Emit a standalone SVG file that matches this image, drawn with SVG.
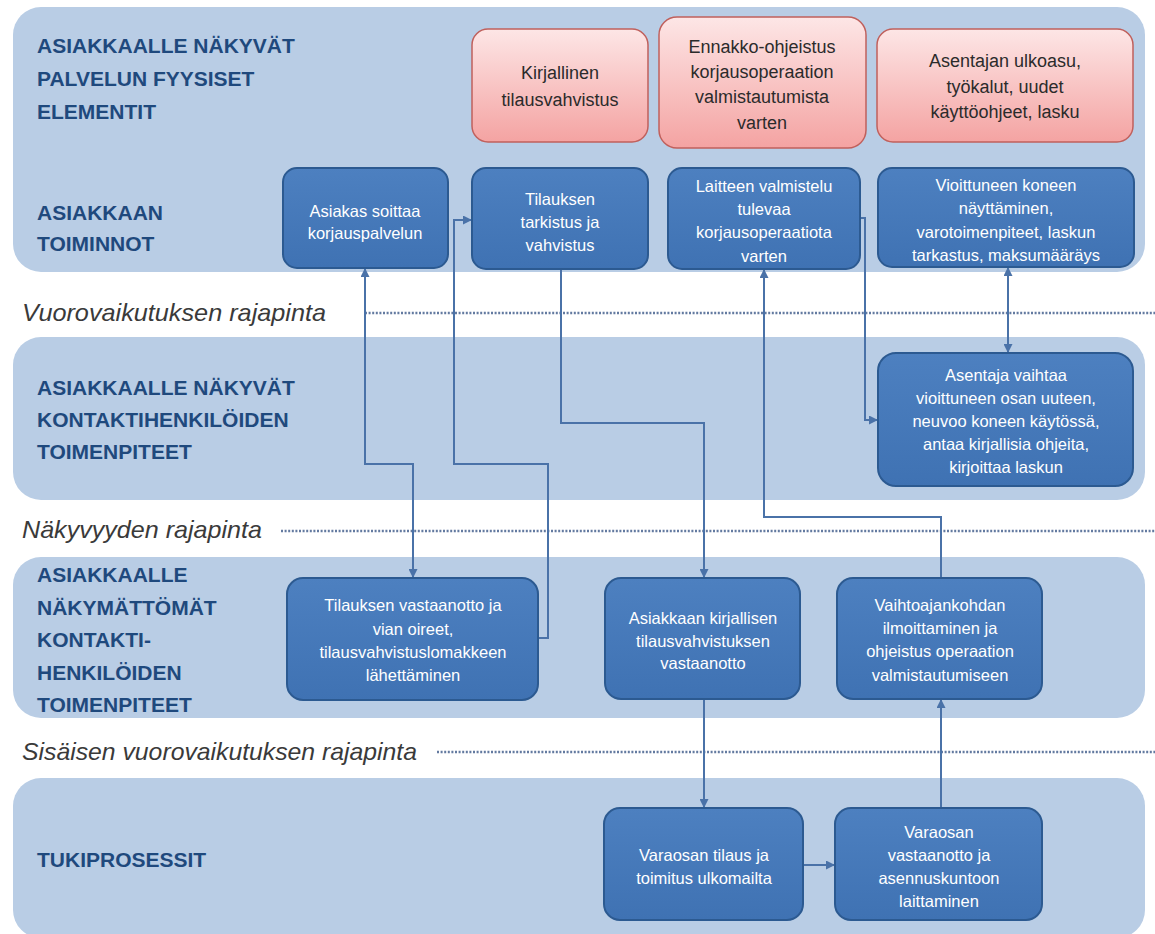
<svg xmlns="http://www.w3.org/2000/svg" width="1155" height="934" viewBox="0 0 1155 934">
<defs>
<linearGradient id="pink" x1="0" y1="0" x2="0" y2="1">
<stop offset="0" stop-color="#fde6e6"/>
<stop offset="1" stop-color="#f4a3a2"/>
</linearGradient>
<linearGradient id="blue" x1="0" y1="0" x2="0" y2="1">
<stop offset="0" stop-color="#4d80c0"/>
<stop offset="1" stop-color="#3f72b3"/>
</linearGradient>
<marker id="arr" viewBox="0 0 10 10" refX="10" refY="5" markerWidth="9" markerHeight="9" markerUnits="userSpaceOnUse" orient="auto-start-reverse">
<path d="M0,0 L10,5 L0,10 z" fill="#4a72a8"/>
</marker>
</defs>
<style>
.band{fill:#b9cde5;}
.title{font-family:"Liberation Sans",Arial,sans-serif;font-weight:bold;font-size:21px;fill:#1f497d;}
.sep{font-family:"Liberation Sans",Arial,sans-serif;font-style:italic;font-size:24px;fill:#3a3a3a;}
.dots{stroke:#637aa0;stroke-width:2.5;stroke-dasharray:2 1.6;fill:none;}
.pbox{fill:url(#pink);stroke:#c0605c;stroke-width:1.5;}
.bbox{fill:url(#blue);stroke:#2c5a91;stroke-width:2;}
.pt{font-family:"Liberation Sans",Arial,sans-serif;font-size:18px;fill:#2b2b2b;text-anchor:middle;}
.bt{font-family:"Liberation Sans",Arial,sans-serif;font-size:16.5px;fill:#fff;text-anchor:middle;}
.conn{fill:none;stroke:#4a72a8;stroke-width:2;}
</style>
<rect width="1155" height="934" fill="#fff"/>

<g id="lanes">
<rect class="band" x="13" y="7" width="1132" height="265" rx="28"/>
<rect class="band" x="13" y="337" width="1132" height="163" rx="28"/>
<rect class="band" x="13" y="557" width="1132" height="161" rx="28"/>
<rect class="band" x="13" y="778" width="1132" height="160" rx="28"/>
<text class="title" x="37"><tspan x="37" y="53">ASIAKKAALLE NÄKYVÄT</tspan><tspan x="37" y="86">PALVELUN FYYSISET</tspan><tspan x="37" y="119">ELEMENTIT</tspan></text>
<text class="title" x="37"><tspan x="37" y="220">ASIAKKAAN</tspan><tspan x="37" y="251">TOIMINNOT</tspan></text>
<text class="title" x="37"><tspan x="37" y="395">ASIAKKAALLE NÄKYVÄT</tspan><tspan x="37" y="427">KONTAKTIHENKILÖIDEN</tspan><tspan x="37" y="459">TOIMENPITEET</tspan></text>
<text class="title" x="37"><tspan x="37" y="582">ASIAKKAALLE</tspan><tspan x="37" y="615">NÄKYMÄTTÖMÄT</tspan><tspan x="37" y="647">KONTAKTI-</tspan><tspan x="37" y="680">HENKILÖIDEN</tspan><tspan x="37" y="712">TOIMENPITEET</tspan></text>
<text class="title" x="37" y="867">TUKIPROSESSIT</text>
</g>

<g id="separators">
<text class="sep" x="22" y="321" textLength="304" lengthAdjust="spacingAndGlyphs">Vuorovaikutuksen rajapinta</text>
<line class="dots" x1="365" y1="313" x2="1155" y2="313"/>
<text class="sep" x="22" y="538" textLength="240" lengthAdjust="spacingAndGlyphs">Näkyvyyden rajapinta</text>
<line class="dots" x1="281" y1="531" x2="1155" y2="531"/>
<text class="sep" x="22" y="760" textLength="395" lengthAdjust="spacingAndGlyphs">Sisäisen vuorovaikutuksen rajapinta</text>
<line class="dots" x1="437" y1="752" x2="1155" y2="752"/>
</g>

<g id="connectors">
<path class="conn" d="M365,268 V464 H413 V578" marker-start="url(#arr)" marker-end="url(#arr)"/>
<path class="conn" d="M538,638 H548 V464 H454 V220 H472" marker-end="url(#arr)"/>
<path class="conn" d="M561,269 V423 H704 V578" marker-end="url(#arr)"/>
<path class="conn" d="M860,218 H865 V420 H878" marker-end="url(#arr)"/>
<path class="conn" d="M941,578 V517 H764 V269" marker-end="url(#arr)"/>
<path class="conn" d="M1008,267 V353" marker-start="url(#arr)" marker-end="url(#arr)"/>
<path class="conn" d="M704,699 V808" marker-end="url(#arr)"/>
<path class="conn" d="M803,865 H835" marker-end="url(#arr)"/>
<path class="conn" d="M941,808 V699" marker-end="url(#arr)"/>
</g>

<g id="p1"><rect class="pbox" x="472" y="29" width="176" height="113" rx="16"/>
<text class="pt"><tspan x="560" y="79">Kirjallinen</tspan><tspan x="560" y="106">tilausvahvistus</tspan></text></g>
<g id="p2"><rect class="pbox" x="659" y="17" width="207" height="131" rx="18"/>
<text class="pt"><tspan x="762" y="53">Ennakko-ohjeistus</tspan><tspan x="762" y="78">korjausoperaation</tspan><tspan x="762" y="103">valmistautumista</tspan><tspan x="762" y="129">varten</tspan></text></g>
<g id="p3"><rect class="pbox" x="877" y="29" width="256" height="113" rx="16"/>
<text class="pt"><tspan x="1005" y="67">Asentajan ulkoasu,</tspan><tspan x="1005" y="93">työkalut, uudet</tspan><tspan x="1005" y="118">käyttöohjeet, lasku</tspan></text></g>

<g id="b1"><rect class="bbox" x="283" y="168" width="165" height="100" rx="14"/>
<text class="bt"><tspan x="365" y="217">Asiakas soittaa</tspan><tspan x="365" y="239">korjauspalvelun</tspan></text></g>
<g id="b2"><rect class="bbox" x="472" y="168" width="176" height="101" rx="14"/>
<text class="bt"><tspan x="560" y="205">Tilauksen</tspan><tspan x="560" y="228">tarkistus ja</tspan><tspan x="560" y="251">vahvistus</tspan></text></g>
<g id="b3"><rect class="bbox" x="668" y="168" width="192" height="101" rx="14"/>
<text class="bt"><tspan x="764" y="192">Laitteen valmistelu</tspan><tspan x="764" y="215">tulevaa</tspan><tspan x="764" y="238">korjausoperaatiota</tspan><tspan x="764" y="262">varten</tspan></text></g>
<g id="b4"><rect class="bbox" x="878" y="168" width="256" height="99" rx="14"/>
<text class="bt"><tspan x="1006" y="191">Vioittuneen koneen</tspan><tspan x="1006" y="214">näyttäminen,</tspan><tspan x="1006" y="238">varotoimenpiteet, laskun</tspan><tspan x="1006" y="261">tarkastus, maksumääräys</tspan></text></g>

<g id="b5"><rect class="bbox" x="878" y="353" width="255" height="133" rx="18"/>
<text class="bt"><tspan x="1006" y="381">Asentaja vaihtaa</tspan><tspan x="1006" y="404">vioittuneen osan uuteen,</tspan><tspan x="1006" y="427">neuvoo koneen käytössä,</tspan><tspan x="1006" y="450">antaa kirjallisia ohjeita,</tspan><tspan x="1006" y="473">kirjoittaa laskun</tspan></text></g>

<g id="b6"><rect class="bbox" x="287" y="578" width="251" height="122" rx="16"/>
<text class="bt"><tspan x="413" y="611">Tilauksen vastaanotto ja</tspan><tspan x="413" y="635">vian oireet,</tspan><tspan x="413" y="658">tilausvahvistuslomakkeen</tspan><tspan x="413" y="681">lähettäminen</tspan></text></g>
<g id="b7"><rect class="bbox" x="605" y="578" width="195" height="121" rx="16"/>
<text class="bt"><tspan x="703" y="624">Asiakkaan kirjallisen</tspan><tspan x="703" y="647">tilausvahvistuksen</tspan><tspan x="703" y="669">vastaanotto</tspan></text></g>
<g id="b8"><rect class="bbox" x="837" y="578" width="205" height="121" rx="16"/>
<text class="bt"><tspan x="940" y="611">Vaihtoajankohdan</tspan><tspan x="940" y="634">ilmoittaminen ja</tspan><tspan x="940" y="657">ohjeistus operaation</tspan><tspan x="940" y="681">valmistautumiseen</tspan></text></g>

<g id="b9"><rect class="bbox" x="604" y="808" width="199" height="112" rx="16"/>
<text class="bt"><tspan x="704" y="861">Varaosan tilaus ja</tspan><tspan x="704" y="884">toimitus ulkomailta</tspan></text></g>
<g id="b10"><rect class="bbox" x="835" y="808" width="207" height="112" rx="16"/>
<text class="bt"><tspan x="939" y="838">Varaosan</tspan><tspan x="939" y="861">vastaanotto ja</tspan><tspan x="939" y="884">asennuskuntoon</tspan><tspan x="939" y="907">laittaminen</tspan></text></g>
</svg>
